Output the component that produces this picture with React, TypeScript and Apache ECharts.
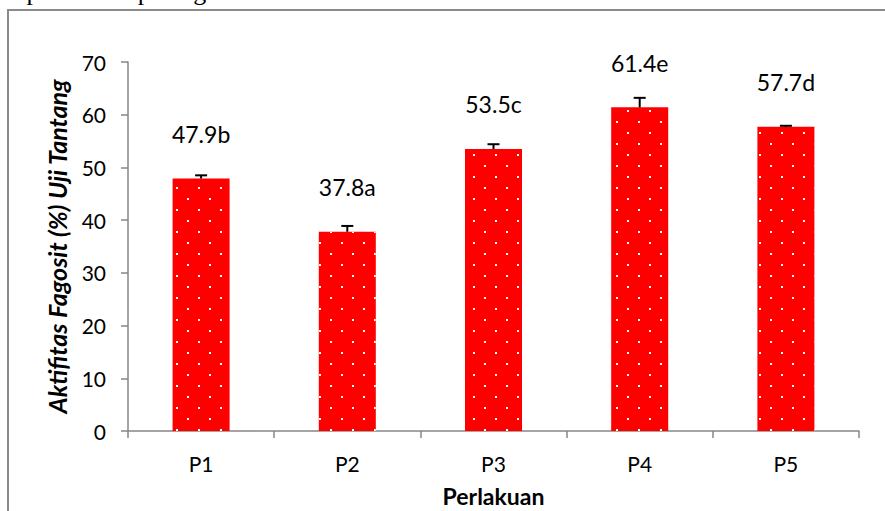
import React, { useEffect, useRef } from "react";
import * as echarts from "echarts";

const categories = ["P1", "P2", "P3", "P4", "P5"];
const values = [47.9, 37.8, 53.5, 61.4, 57.7];
const errors = [0.6, 1.1, 0.9, 1.8, 0.2];
const letters = ["b", "a", "c", "e", "d"];
const yMin = 0;
const yMax = 70;
const yInterval = 10;
const yTitle = "Aktifitas Fagosit (%) Uji Tantang";
const xTitle = "Perlakuan";
const topText = "dapat dilihat pada gambar 6.";

const FONT = "Lato";

export default function App() {
  const ref = useRef<HTMLDivElement>(null);
  useEffect(() => {
    if (!ref.current) return;
    const chart = echarts.init(ref.current, undefined, { renderer: "svg" });
    const option: any = {
      animation: false,
      backgroundColor: "#fff",
      grid: { left: 128, right: 26, top: 62, bottom: 80, outerBoundsMode: "none", containLabel: false },
      graphic: [
        {
          type: "rect",
          shape: { x: 8, y: 10, width: 900, height: 520 },
          style: { fill: "none", stroke: "#8a8a8a", lineWidth: 2 },
          silent: true,
        },
        {
          type: "text",
          x: 2,
          y: -9,
          style: {
            text: topText,
            font: '26px "Liberation Serif"',
            fill: "#000",
            verticalAlign: "middle",
          },
          silent: true,
        },
      ],
      xAxis: {
        type: "category",
        data: categories,
        name: xTitle,
        nameLocation: "middle",
        nameGap: 53,
        nameTextStyle: { fontFamily: FONT, fontSize: 23, fontWeight: "bold", color: "#000" },
        axisLine: { lineStyle: { color: "#878787", width: 1.5 } },
        axisTick: { show: true, length: 7, lineStyle: { color: "#878787", width: 1.5 } },
        axisLabel: { fontFamily: FONT, fontSize: 21, color: "#000", margin: 22 },
      },
      yAxis: {
        type: "value",
        min: yMin,
        max: yMax,
        interval: yInterval,
        name: yTitle,
        nameLocation: "middle",
        nameRotate: 90,
        nameGap: 59,
        nameTextStyle: {
          fontFamily: FONT,
          fontSize: 25,
          fontWeight: "bold",
          fontStyle: "italic",
          color: "#000",
        },
        splitLine: { show: false },
        axisLine: { show: true, lineStyle: { color: "#878787", width: 1.5 } },
        axisTick: { show: true, length: 7, lineStyle: { color: "#878787", width: 1.5 } },
        axisLabel: { fontFamily: FONT, fontSize: 21, color: "#000", margin: 22 },
      },
      series: [
        {
          type: "bar",
          data: values,
          barWidth: "39%",
          itemStyle: {
            color: "#ff0000",
            decal: {
              symbol: "rect",
              symbolSize: 1,
              color: "#ffffff",
              dashArrayX: [
                [2, 20],
                [0, 11, 2, 9],
              ],
              dashArrayY: [2, 9],
              rotation: 0,
            },
          },
          label: {
            show: true,
            position: "top",
            distance: 33,
            fontFamily: FONT,
            fontSize: 23,
            color: "#000",
            formatter: (p: any) => values[p.dataIndex].toFixed(1) + letters[p.dataIndex],
          },
          z: 2,
        },
        {
          type: "custom",
          data: categories.map((c, i) => [i, values[i], errors[i]]),
          encode: { x: 0, y: 1 },
          z: 5,
          renderItem: (params: any, api: any) => {
            const xi = api.value(0);
            const v = api.value(1);
            const e = api.value(2);
            const top = api.coord([xi, v + e]);
            const base = api.coord([xi, v]);
            return {
              type: "group",
              children: [
                {
                  type: "line",
                  shape: { x1: top[0], y1: top[1], x2: base[0], y2: base[1] },
                  style: { stroke: "#000", lineWidth: 2 },
                },
                {
                  type: "line",
                  shape: { x1: top[0] - 6, y1: top[1], x2: top[0] + 6, y2: top[1] },
                  style: { stroke: "#000", lineWidth: 2 },
                },
              ],
            };
          },
        },
      ],
    };
    chart.setOption(option);
    return () => chart.dispose();
  }, []);
  return (
    <div
      ref={ref}
      style={{ position: "fixed", left: 0, top: 0, width: 885, height: 511, background: "#fff" }}
    />
  );
}
